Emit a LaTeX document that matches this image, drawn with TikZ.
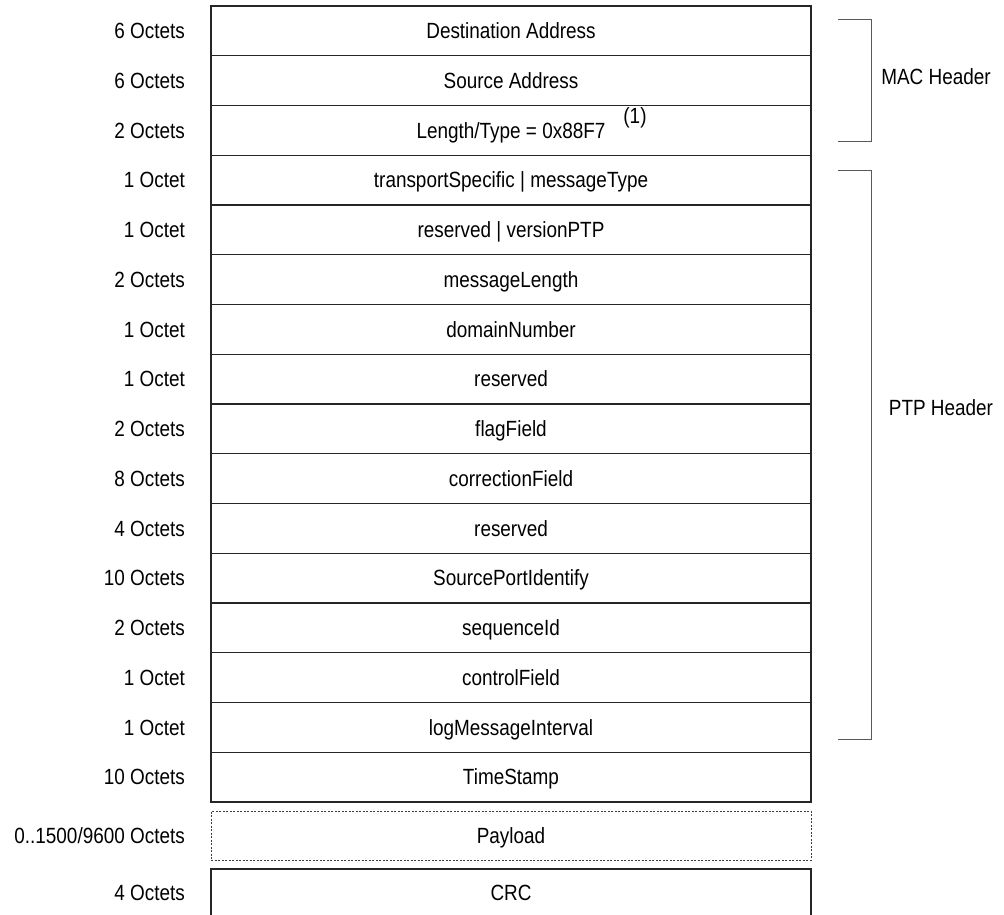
\documentclass[tikz,border=0pt]{standalone}
\usepackage{fontspec}
\setmainfont{Liberation Sans}[FakeStretch=0.86]
\begin{document}
\begin{tikzpicture}[x=1pt,y=-1pt,
  txt/.style={font=\fontsize{22}{26}\selectfont, text height=15.7pt, text depth=0pt, inner sep=0pt},
  rowbox/.style={txt, draw=black!85, line width=1.2pt, minimum width=600pt, minimum height=49.75pt, outer sep=0pt},
  sizelbl/.style={txt, anchor=east},
  brack/.style={draw=black!65, line width=1pt},
  dashbox/.style={txt, draw=black!75, line width=1pt, dash pattern=on 2pt off 1.5pt, minimum width=600pt, minimum height=49pt, outer sep=0pt}]
\useasboundingbox (0,0) rectangle (1004,915);
\foreach \i/\f/\s in {1/Destination Address/6 Octets,
  2/Source Address/6 Octets,
  3/{Length/Type = 0x88F7}/2 Octets,
  4/transportSpecific | messageType/1 Octet,
  5/reserved | versionPTP/1 Octet,
  6/messageLength/2 Octets,
  7/domainNumber/1 Octet,
  8/reserved/1 Octet,
  9/flagField/2 Octets,
  10/correctionField/8 Octets,
  11/reserved/4 Octets,
  12/SourcePortIdentify/10 Octets,
  13/sequenceId/2 Octets,
  14/controlField/1 Octet,
  15/logMessageInterval/1 Octet,
  16/TimeStamp/10 Octets}{
  \node[rowbox] (r\i) at (511,{6+49.75*(\i-0.5)}) {\f};
  \node[sizelbl] (l\i) at (185,{6+49.75*(\i-0.5)}) {\s};
}
\node[txt] (fn) at (635,116) {(1)};
% payload
\node[dashbox] (pay) at (511,835.5) {Payload};
\node[sizelbl] (lpay) at (185,835.5) {0..1500/9600 Octets};
% CRC (open at bottom)
\coordinate (crcbl) at (211,915);
\coordinate (crctl) at (211,869);
\coordinate (crctr) at (811,869);
\coordinate (crcbr) at (811,915);
\draw[draw=black!85, line width=1.2pt] (crcbl) -- (crctl) -- (crctr) -- (crcbr);
\node[txt] (crc) at (511,893) {CRC};
\node[sizelbl] (lcrc) at (185,893) {4 Octets};
% brackets
\coordinate (m1) at (838,20);
\coordinate (m2) at (871,20);
\coordinate (m3) at (871,142);
\coordinate (m4) at (838,142);
\draw[brack] (m1) -- (m2) -- (m3) -- (m4);
\node[txt] (mac) at (936,77) {MAC Header};
\coordinate (p1) at (838,170);
\coordinate (p2) at (871,170);
\coordinate (p3) at (871,739);
\coordinate (p4) at (838,739);
\draw[brack] (p1) -- (p2) -- (p3) -- (p4);
\node[txt] (ptp) at (941,408) {PTP Header};
\end{tikzpicture}
\end{document}
